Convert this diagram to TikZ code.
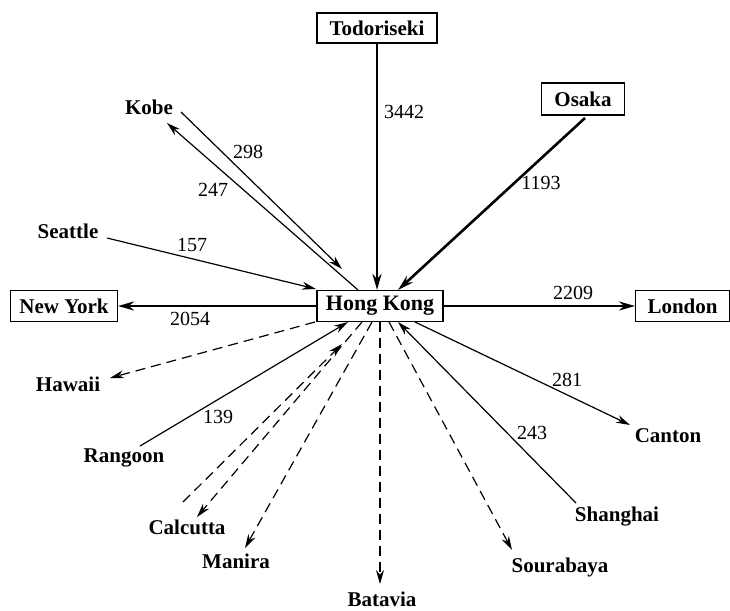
\documentclass[tikz,border=0pt]{standalone}
\usepackage{fontspec}
\setmainfont{Liberation Serif}
\usetikzlibrary{arrows.meta}
\begin{document}
\begin{tikzpicture}[x=1pt,y=-1pt,
  box/.style={draw,line width=1.1pt,inner xsep=2pt,minimum height=31pt,font=\fontsize{21}{24}\selectfont\bfseries},
  city/.style={font=\fontsize{21}{24}\selectfont\bfseries,inner sep=0pt},
  num/.style={font=\fontsize{20}{24}\selectfont,inner sep=0pt},
  heavy/.style={line width=2.6pt,-{Stealth[length=16pt,width=9pt]}},
  lite/.style={line width=1.2pt,-{Stealth[length=14pt,width=8pt]}},
  dsh/.style={lite,dash pattern=on 10pt off 6pt}]
\useasboundingbox (0,0) rectangle (730,610);
% boxes
\node[box,minimum width=126pt,font=\fontsize{22}{24}\selectfont\bfseries] (hk) at (380,306) {Hong Kong};
\node[box,minimum width=120pt,minimum height=30pt] (tod) at (377,28) {Todoriseki};
\node[box,minimum width=83pt,minimum height=32pt] (osa) at (583,99) {Osaka};
\node[box,minimum width=107pt] (ny) at (64,306) {New York};
\node[box,minimum width=94pt,anchor=west] (lon) at (635,306) {London};
% plain city labels
\node[city] (kobe) at (149,107) {Kobe};
\node[city] (sea) at (68,231) {Seattle};
\node[city] (haw) at (68,384) {Hawaii};
\node[city] (ran) at (124,458) {Rangoon};
\node[city] (cal) at (187,527) {Calcutta};
\node[city] (man) at (236,561) {Manira};
\node[city] (bat) at (382,599) {Batavia};
\node[city] (sou) at (560,567) {Sourabaya};
\node[city] (sha) at (617,517) {Shanghai};
\node[city] (can) at (668,436) {Canton};
% numbers
\node[num] (n3442) at (404,112) {3442};
\node[num] (n298) at (248,152) {298};
\node[num] (n247) at (213,190) {247};
\node[num] (n1193) at (541,183) {1193};
\node[num] (n157) at (192,245) {157};
\node[num] (n2054) at (190,319) {2054};
\node[num] (n2209) at (573,293) {2209};
\node[num] (n281) at (567,380) {281};
\node[num] (n139) at (218,417) {139};
\node[num] (n243) at (532,433) {243};
% connector end points
\coordinate (osaS) at (585,118);
\coordinate (hkOsa) at (398,290);
\coordinate (kobeA) at (181,112);
\coordinate (kobeAe) at (342,269);
\coordinate (hkKobe) at (358,290);
\coordinate (kobeB) at (167,123);
\coordinate (seaE) at (107,238);
\coordinate (hkSea) at (316,289);
\coordinate (hkHaw) at (315,322);
\coordinate (hawE) at (110,378);
\coordinate (ranE) at (140,446);
\coordinate (hkRan) at (348,322);
\coordinate (calA) at (183,502);
\coordinate (calAe) at (342,344);
\coordinate (hkCal) at (362,322);
\coordinate (calB) at (197,517);
\coordinate (hkMan) at (372,322);
\coordinate (manE) at (245,548);
\coordinate (hkBat) at (380,322);
\coordinate (batE) at (380,584);
\coordinate (hkSou) at (389,322);
\coordinate (souE) at (512,550);
\coordinate (shaE) at (576,503);
\coordinate (hkSha) at (398,322);
\coordinate (hkCan) at (415,322);
\coordinate (canE) at (630,425);
% connectors
\draw[heavy] (tod.south) -- (tod.south |- hk.north);
\draw[heavy] (osaS) -- (hkOsa);
\draw[heavy] (hk.west) -- (ny.east);
\draw[heavy] (hk.east) -- (lon.west);
\draw[lite] (kobeA) -- (kobeAe);
\draw[lite] (hkKobe) -- (kobeB);
\draw[lite] (seaE) -- (hkSea);
\draw[dsh] (hkHaw) -- (hawE);
\draw[lite] (ranE) -- (hkRan);
\draw[dsh] (calA) -- (calAe);
\draw[dsh] (hkCal) -- (calB);
\draw[dsh] (hkMan) -- (manE);
\draw[dsh] (hkBat) -- (batE);
\draw[dsh] (hkSou) -- (souE);
\draw[lite] (shaE) -- (hkSha);
\draw[lite] (hkCan) -- (canE);
\end{tikzpicture}
\end{document}
